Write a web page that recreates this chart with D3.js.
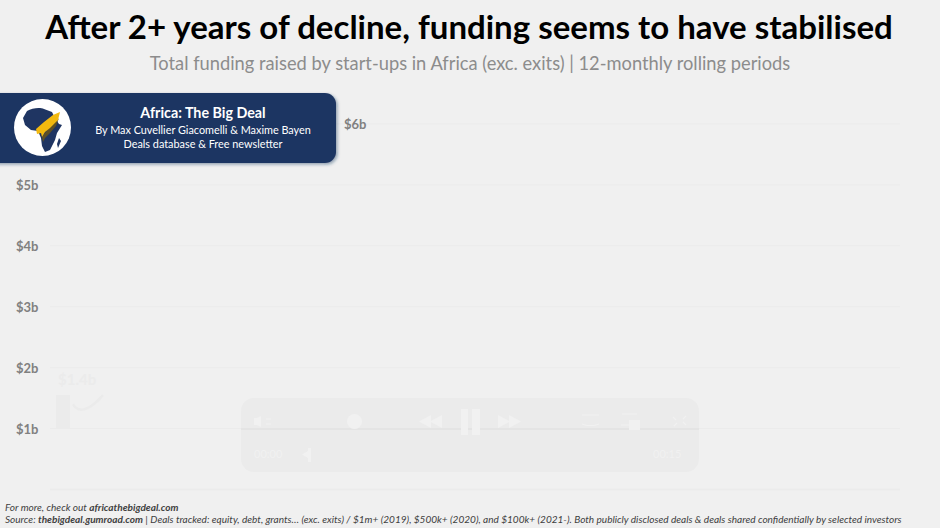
<!DOCTYPE html>
<html>
<head>
<meta charset="utf-8">
<script src="https://cdn.jsdelivr.net/npm/d3@7/dist/d3.min.js"></script>
<style>
html,body{margin:0;padding:0;background:#f0f0f0;}
svg{display:block;}
text{font-family:Lato,"Open Sans",sans-serif;}
</style>
</head>
<body>
<svg id="c" width="940" height="528"></svg>
<script>
const titleText = "After 2+ years of decline, funding seems to have stabilised";
const subtitleText = "Total funding raised by start-ups in Africa (exc. exits) | 12-monthly rolling periods";
const tickValues = [0, 1, 2, 3, 4, 5, 6];
const tickLabels = ["", "$1b", "$2b", "$3b", "$4b", "$5b", "$6b"];
const periods = ["p1"];
const barBase = [1.0];
const barTop = [1.55];
const barLabels = ["$1.4b"];
const trendX = [73, 76, 81, 88, 95, 103];
const trendY = [1.40, 1.33, 1.30, 1.33, 1.41, 1.55];
const bannerLines = ["Africa: The Big Deal", "By Max Cuvellier Giacomelli & Maxime Bayen", "Deals database & Free newsletter"];

const svg = d3.select("#c");
const y = d3.scaleLinear().domain([0, 6]).range([489.5, 124]);
const x = d3.scaleBand().domain(periods).range([56, 70]);

svg.append("text").attr("x", 469).attr("y", 39).attr("text-anchor", "middle")
  .attr("font-size", 33).attr("font-weight", 700).attr("fill", "#000").text(titleText);
svg.append("text").attr("x", 470).attr("y", 70).attr("text-anchor", "middle")
  .attr("font-size", 18.3).attr("fill", "#8c8c8c").text(subtitleText);

// grid + axis
const grid = svg.append("g");
grid.selectAll("line").data(tickValues).join("line")
  .attr("x1", 50).attr("x2", 900)
  .attr("y1", d => y(d)).attr("y2", d => y(d))
  .attr("stroke", "#ebebeb").attr("stroke-width", d => d === 0 ? 2 : 1);
grid.selectAll("text").data(tickValues).join("text")
  .attr("x", d => d === 6 ? 344 : 16).attr("y", d => y(d) + 5)
  .attr("font-size", 13).attr("font-weight", 700).attr("fill", "#808080")
  .text((d, i) => tickLabels[i]);

// faint bar, label and trend
svg.selectAll("rect.bar").data(periods).join("rect").attr("class", "bar")
  .attr("x", d => x(d)).attr("width", x.bandwidth())
  .attr("y", (d, i) => y(barTop[i])).attr("height", (d, i) => y(barBase[i]) - y(barTop[i]))
  .attr("fill", "#ebebeb");
svg.selectAll("text.barl").data(periods).join("text").attr("class", "barl")
  .attr("x", 58).attr("y", 385).attr("font-size", 15).attr("font-weight", 700)
  .attr("fill", "#ebebeb").text((d, i) => barLabels[i]);
const trend = d3.line().x(d => d[0]).y(d => y(d[1])).curve(d3.curveBasis);
svg.append("path").attr("d", trend(trendX.map((v, i) => [v, trendY[i]])))
  .attr("fill", "none").attr("stroke", "#ebebeb").attr("stroke-width", 2.5);

// player overlay
const p = svg.append("g");
p.append("rect").attr("x", 241).attr("y", 398).attr("width", 458).attr("height", 74).attr("rx", 13).attr("fill", "#ebebeb");
p.append("line").attr("x1", 241).attr("x2", 699).attr("y1", 429).attr("y2", 429).attr("stroke", "#e2e2e2").attr("stroke-width", 1.5);
const ic = "#f1f1f1";
p.append("circle").attr("cx", 354.5).attr("cy", 421.5).attr("r", 7.5).attr("fill", ic);
p.append("rect").attr("x", 461).attr("y", 409).attr("width", 7).attr("height", 26).attr("fill", ic);
p.append("rect").attr("x", 472).attr("y", 409).attr("width", 8).attr("height", 26).attr("fill", ic);
p.append("path").attr("d", "M430 421.5L442 415V428Z M419 421.5L431 415V428Z").attr("fill", ic);
p.append("path").attr("d", "M498 415L510 421.5L498 428Z M509 415L521 421.5L509 428Z").attr("fill", ic);
p.append("path").attr("d", "M254 418H257L261 416V427L257 425H254Z").attr("fill", ic);
p.append("path").attr("d", "M266 419H271M266 424H271").attr("stroke", ic).attr("stroke-width", 1.2);
p.append("path").attr("d", "M582 415H599M582 424L587 425.5H594L599 424").attr("stroke", ic).attr("stroke-width", 1.2).attr("fill", "none");
p.append("path").attr("d", "M622 414H637M621 425H629").attr("stroke", ic).attr("stroke-width", 1.2).attr("fill", "none");
p.append("rect").attr("x", 629).attr("y", 420).attr("width", 11).attr("height", 10).attr("fill", ic);
p.append("path").attr("d", "M673 417L676 420M686 416L683 419M674 426L677 423M686 425L683 422").attr("stroke", ic).attr("stroke-width", 1.2);
p.append("text").attr("x", 254).attr("y", 458).attr("font-size", 11).attr("fill", ic).text("00:00");
p.append("path").attr("d", "M302 454.5L308 451V458Z").attr("fill", ic);
p.append("rect").attr("x", 308).attr("y", 448).attr("width", 3).attr("height", 14).attr("fill", ic);
p.append("text").attr("x", 653).attr("y", 458).attr("font-size", 11).attr("fill", ic).text("00:15");

// banner
const defs = svg.append("defs");
const f = defs.append("filter").attr("id", "sh").attr("x", "-5%").attr("y", "-10%").attr("width", "110%").attr("height", "125%");
f.append("feDropShadow").attr("dx", 1.5).attr("dy", 1.5).attr("stdDeviation", 1.5).attr("flood-color", "#1f3864").attr("flood-opacity", 0.45);
const b = svg.append("g");
b.append("rect").attr("x", -20).attr("y", 93).attr("width", 356).attr("height", 70).attr("rx", 11)
  .attr("fill", "#1f3562").attr("filter", "url(#sh)");
b.append("circle").attr("cx", 42.5).attr("cy", 127.5).attr("r", 28.5).attr("fill", "#fff");
b.append("path").attr("d", "M27 111C32 108 40 107 44 109L52 112L55 118L59 124L62 125L57 133L55 140L50 150L45 152L42 146L41 138L38 131L31 130L25 125L23 118Z")
  .attr("fill", "#1f3562");
b.append("path").attr("d", "M59 138L61 141L58 148L57 144Z").attr("fill", "#1f3562");
b.append("path").attr("d", "M42 137L48 129L56 122L59 118L56 126L50 133L45 138L43 142Z").attr("fill", "#5e5024");
b.append("path").attr("d", "M36 129L44 122L53 115L60 112L58 120L50 128L45 132L42 137L41 133L37 134Z").attr("fill", "#f2b90f");
const bx = 203;
b.append("text").attr("x", bx).attr("y", 118).attr("text-anchor", "middle").attr("font-size", 14.3).attr("font-weight", 700).attr("fill", "#fff").text(bannerLines[0]);
b.append("text").attr("x", bx).attr("y", 134).attr("text-anchor", "middle").attr("font-size", 10.85).attr("fill", "#fff").text(bannerLines[1]);
b.append("text").attr("x", bx).attr("y", 148).attr("text-anchor", "middle").attr("font-size", 10.85).attr("fill", "#fff").text(bannerLines[2]);

// footer
const foot = svg.append("g").attr("font-size", 10.05).attr("font-style", "italic").attr("fill", "#404040");
const l1 = foot.append("text").attr("x", 5).attr("y", 511);
l1.append("tspan").text("For more, check out ");
l1.append("tspan").attr("font-weight", 700).text("africathebigdeal.com");
const l2 = foot.append("text").attr("x", 5).attr("y", 523);
l2.append("tspan").text("Source: ");
l2.append("tspan").attr("font-weight", 700).text("thebigdeal.gumroad.com");
l2.append("tspan").text(" | Deals tracked: equity, debt, grants… (exc. exits) / $1m+ (2019), $500k+ (2020), and $100k+ (2021-). Both publicly disclosed deals & deals shared confidentially by selected investors");
</script>
</body>
</html>
